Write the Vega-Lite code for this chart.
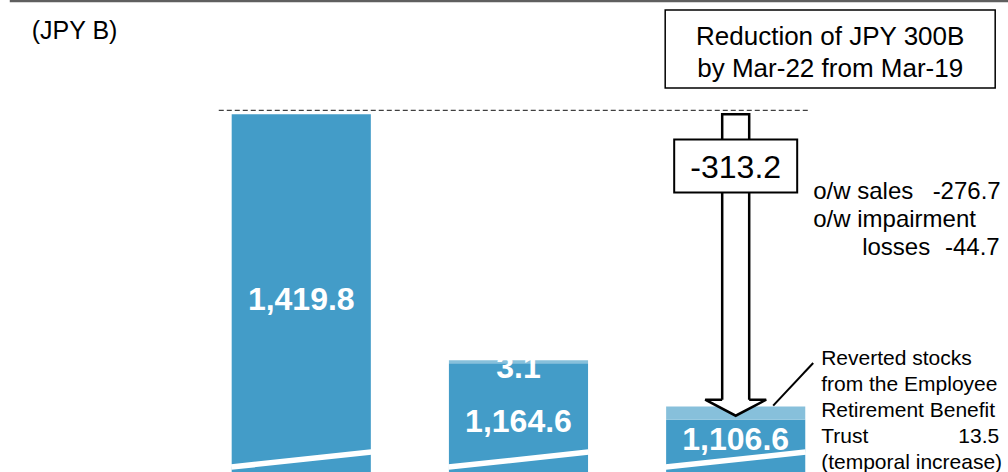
{
  "$schema": "https://vega.github.io/schema/vega-lite/v6.json",
  "width": 1008,
  "height": 472,
  "padding": 0,
  "autosize": {"type": "none"},
  "background": "white",
  "config": {"view": {"stroke": null}, "font": "Liberation Sans"},
  "data": {
    "values": [
      {"period": "Mar-19", "part": "Listed stocks", "value": 1419.8},
      {"period": "Mar-21", "part": "Listed stocks", "value": 1164.6},
      {"period": "Mar-21", "part": "Reverted stocks", "value": 3.1},
      {"period": "Mar-22", "part": "Listed stocks", "value": 1106.6},
      {"period": "Mar-22", "part": "Reverted stocks", "value": 13.5}
    ]
  },
  "layer": [
    {
      "mark": {"type": "bar", "clip": true},
      "encoding": {
        "x": {
          "field": "period",
          "type": "nominal",
          "axis": null,
          "scale": {"type": "band", "paddingInner": 0.35945, "paddingOuter": 1.002, "align": 0.53333}
        },
        "y": {
          "field": "value",
          "type": "quantitative",
          "stack": "zero",
          "axis": null,
          "scale": {"domain": [1053, 1537], "nice": false, "zero": false}
        },
        "color": {
          "field": "part",
          "type": "nominal",
          "legend": null,
          "scale": {"domain": ["Listed stocks", "Reverted stocks"], "range": ["#439CC8", "#87C0DB"]}
        },
        "order": {"field": "part", "sort": "ascending"}
      }
    },
    {
      "transform": [{"filter": "datum.part === 'Listed stocks'"}],
      "mark": {"type": "rule", "stroke": "white", "strokeWidth": 5.5, "strokeCap": "butt", "xOffset": -70, "x2Offset": 70},
      "encoding": {
        "x": {"field": "period", "type": "nominal"},
        "x2": {"field": "period"},
        "y": {"datum": 1058.1, "type": "quantitative"},
        "y2": {"datum": 1073.5}
      }
    },
    {
      "data": {"values": [{}]},
      "mark": {"type": "rule", "stroke": "#404040", "strokeWidth": 1.3, "strokeDash": [5, 3], "xOffset": -82.5, "x2Offset": 72.5, "yOffset": -4},
      "encoding": {
        "x": {"datum": "Mar-19", "type": "nominal"},
        "x2": {"datum": "Mar-22"},
        "y": {"datum": 1419.8, "type": "quantitative"}
      }
    },
    {
      "data": {"values": [{}]},
      "mark": {"type": "rule", "stroke": "#5f5f5f", "strokeWidth": 2.5, "xOffset": -291.5, "x2Offset": 272.5},
      "encoding": {
        "x": {"datum": "Mar-19", "type": "nominal"},
        "x2": {"datum": "Mar-22"},
        "y": {"datum": 1536.0, "type": "quantitative"}
      }
    },
    {
      "data": {"values": [{}]},
      "mark": {"type": "rect", "fill": "white", "stroke": "black", "strokeWidth": 2.5, "strokeJoin": "miter", "xOffset": -13.5, "x2Offset": 13.5, "y2Offset": -16},
      "encoding": {
        "x": {"datum": "Mar-22", "type": "nominal"},
        "x2": {"datum": "Mar-22"},
        "y": {"datum": 1419.8, "type": "quantitative"},
        "y2": {"datum": 1106.6}
      }
    },
    {
      "data": {"values": [{}]},
      "mark": {
        "type": "point",
        "shape": "M-0.443,-0.525L-1,-0.525L0,0L1,-0.525L0.443,-0.525",
        "size": 3721,
        "filled": true,
        "fill": "white",
        "stroke": "black",
        "strokeWidth": 2.5,
        "strokeJoin": "miter",
        "opacity": 1,
        "yOffset": -4
      },
      "encoding": {
        "x": {"datum": "Mar-22", "type": "nominal"},
        "y": {"datum": 1106.6, "type": "quantitative"}
      }
    },
    {
      "data": {"values": [{}]},
      "mark": {"type": "rect", "fill": "white", "stroke": "black", "strokeWidth": 2, "xOffset": -61.5, "x2Offset": 61.5},
      "encoding": {
        "x": {"datum": "Mar-22", "type": "nominal"},
        "x2": {"datum": "Mar-22"},
        "y": {"datum": 1393.95, "type": "quantitative"},
        "y2": {"datum": 1339.6}
      }
    },
    {
      "data": {"values": [{}]},
      "mark": {"type": "text", "fontSize": 32, "align": "center", "baseline": "alphabetic", "color": "black"},
      "encoding": {
        "x": {"datum": "Mar-22", "type": "nominal"},
        "y": {"datum": 1354.5, "type": "quantitative"},
        "text": {"value": "-313.2"}
      }
    },
    {
      "data": {"values": [{}]},
      "mark": {"type": "rect", "fill": "white", "stroke": "black", "strokeWidth": 1.5, "xOffset": -70.5, "x2Offset": 259.5},
      "encoding": {
        "x": {"datum": "Mar-22", "type": "nominal"},
        "x2": {"datum": "Mar-22"},
        "y": {"datum": 1526.75, "type": "quantitative"},
        "y2": {"datum": 1446.76}
      }
    },
    {
      "data": {"values": [{}]},
      "mark": {"type": "text", "fontSize": 26, "align": "center", "baseline": "alphabetic", "lineHeight": 32, "dx": 94.5, "color": "black"},
      "encoding": {
        "x": {"datum": "Mar-22", "type": "nominal"},
        "y": {"datum": 1490.9, "type": "quantitative"},
        "text": {"value": ["Reduction of JPY 300B", "by Mar-22 from Mar-19"]}
      }
    },
    {
      "data": {"values": [{}]},
      "mark": {"type": "text", "fontSize": 25, "align": "left", "baseline": "alphabetic", "dx": -269.5, "color": "black"},
      "encoding": {
        "x": {"datum": "Mar-19", "type": "nominal"},
        "y": {"datum": 1497.0, "type": "quantitative"},
        "text": {"value": "(JPY B)"}
      }
    },
    {
      "data": {"values": [{}]},
      "mark": {"type": "text", "fontSize": 24, "align": "left", "baseline": "alphabetic", "lineHeight": 28, "dx": 77.5, "color": "black"},
      "encoding": {
        "x": {"datum": "Mar-22", "type": "nominal"},
        "y": {"datum": 1332.9, "type": "quantitative"},
        "text": {"value": ["o/w sales", "o/w impairment"]}
      }
    },
    {
      "data": {"values": [{}]},
      "mark": {"type": "text", "fontSize": 24, "align": "left", "baseline": "alphabetic", "dx": 126.5, "color": "black"},
      "encoding": {
        "x": {"datum": "Mar-22", "type": "nominal"},
        "y": {"datum": 1275.5, "type": "quantitative"},
        "text": {"value": "losses"}
      }
    },
    {
      "data": {"values": [{}]},
      "mark": {"type": "text", "fontSize": 24, "align": "right", "baseline": "alphabetic", "dx": 265, "color": "black"},
      "encoding": {
        "x": {"datum": "Mar-22", "type": "nominal"},
        "y": {"datum": 1332.9, "type": "quantitative"},
        "text": {"value": "-276.7"}
      }
    },
    {
      "data": {"values": [{}]},
      "mark": {"type": "text", "fontSize": 24, "align": "right", "baseline": "alphabetic", "dx": 264, "color": "black"},
      "encoding": {
        "x": {"datum": "Mar-22", "type": "nominal"},
        "y": {"datum": 1275.5, "type": "quantitative"},
        "text": {"value": "-44.7"}
      }
    },
    {
      "data": {"values": [{}]},
      "mark": {"type": "rule", "stroke": "black", "strokeWidth": 2, "xOffset": 37.5, "x2Offset": 77.5, "yOffset": -1},
      "encoding": {
        "x": {"datum": "Mar-22", "type": "nominal"},
        "x2": {"datum": "Mar-22"},
        "y": {"datum": 1120.1, "type": "quantitative"},
        "y2": {"datum": 1164.8}
      }
    },
    {
      "data": {"values": [{}]},
      "mark": {"type": "text", "fontSize": 21, "align": "left", "baseline": "alphabetic", "lineHeight": 26, "dx": 85.5, "color": "black"},
      "encoding": {
        "x": {"datum": "Mar-22", "type": "nominal"},
        "y": {"datum": 1162.7, "type": "quantitative"},
        "text": {"value": ["Reverted stocks", "from the Employee", "Retirement Benefit", "Trust", "(temporal increase)"]}
      }
    },
    {
      "transform": [{"filter": "datum.period === 'Mar-22' && datum.part === 'Reverted stocks'"}],
      "mark": {"type": "text", "fontSize": 21, "align": "right", "baseline": "alphabetic", "dx": 263.5, "color": "black"},
      "encoding": {
        "x": {"field": "period", "type": "nominal"},
        "y": {"datum": 1082.7, "type": "quantitative"},
        "text": {"field": "value", "format": ".1f"}
      }
    },
    {
      "transform": [{"filter": "datum.period === 'Mar-19'"}],
      "mark": {"type": "text", "fontSize": 32, "fontWeight": "bold", "align": "center", "baseline": "alphabetic", "color": "white"},
      "encoding": {
        "x": {"field": "period", "type": "nominal"},
        "y": {"datum": 1219.1, "type": "quantitative"},
        "text": {"field": "value", "format": ",.1f"}
      }
    },
    {
      "transform": [{"filter": "datum.period === 'Mar-21' && datum.part === 'Reverted stocks'"}],
      "mark": {"type": "text", "fontSize": 32, "fontWeight": "bold", "align": "center", "baseline": "alphabetic", "color": "white"},
      "encoding": {
        "x": {"field": "period", "type": "nominal"},
        "y": {"datum": 1149.4, "type": "quantitative"},
        "text": {"field": "value", "format": ",.1f"}
      }
    },
    {
      "transform": [{"filter": "datum.period === 'Mar-21' && datum.part === 'Listed stocks'"}],
      "mark": {"type": "text", "fontSize": 32, "fontWeight": "bold", "align": "center", "baseline": "alphabetic", "color": "white"},
      "encoding": {
        "x": {"field": "period", "type": "nominal"},
        "y": {"datum": 1094.0, "type": "quantitative"},
        "text": {"field": "value", "format": ",.1f"}
      }
    },
    {
      "transform": [{"filter": "datum.period === 'Mar-22' && datum.part === 'Listed stocks'"}],
      "mark": {"type": "text", "fontSize": 32, "fontWeight": "bold", "align": "center", "baseline": "alphabetic", "color": "white"},
      "encoding": {
        "x": {"field": "period", "type": "nominal"},
        "y": {"datum": 1075.6, "type": "quantitative"},
        "text": {"field": "value", "format": ",.1f"}
      }
    }
  ]
}
